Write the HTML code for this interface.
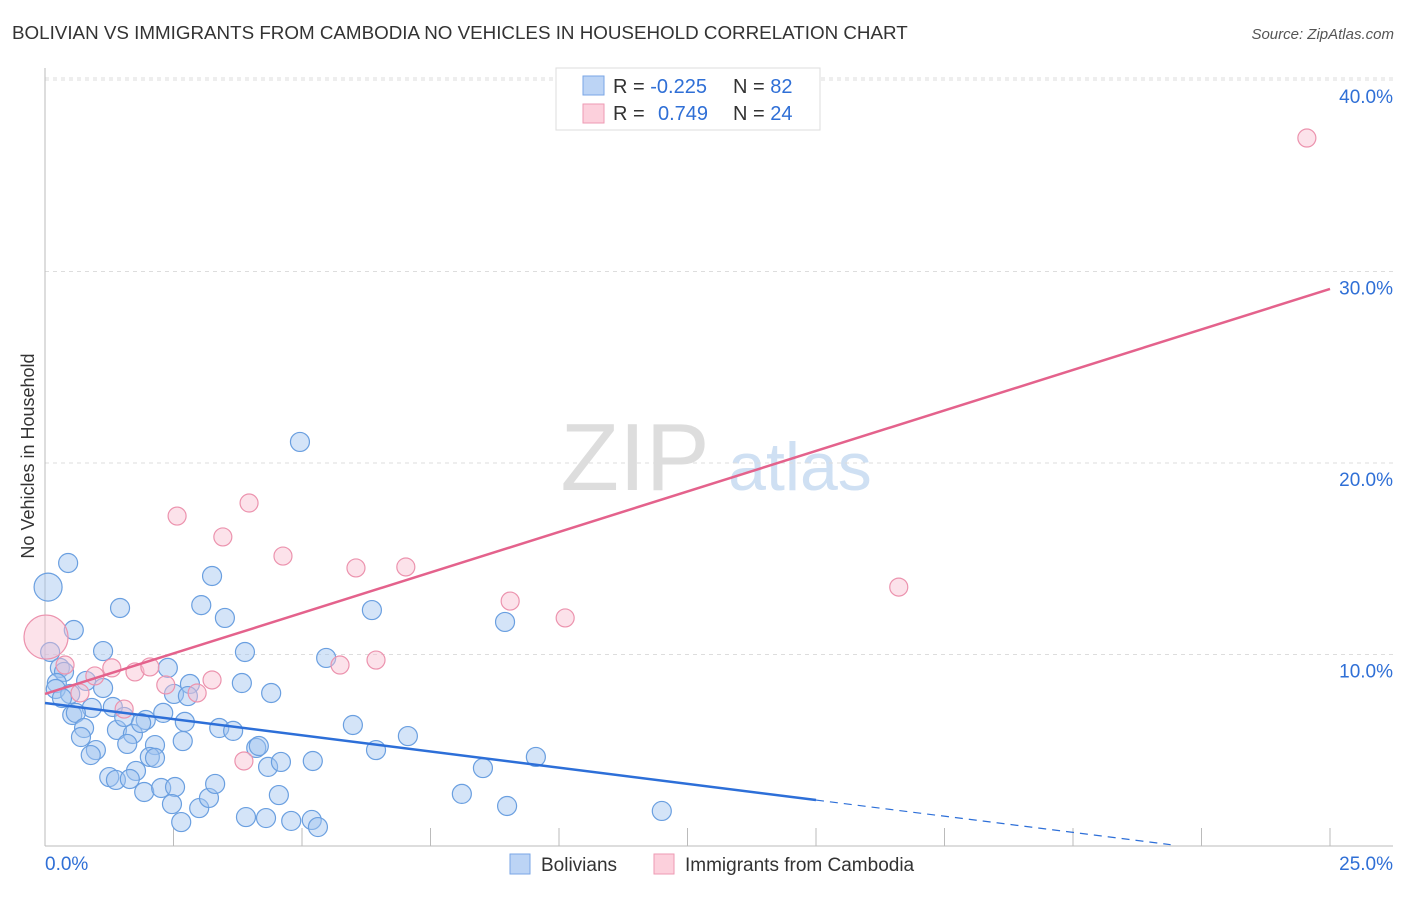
<!DOCTYPE html>
<html><head><meta charset="utf-8"><style>
body{margin:0;background:#fff;font-family:"Liberation Sans",sans-serif;}
svg text{font-family:"Liberation Sans",sans-serif;}
</style></head><body>
<svg id="chart" width="1406" height="892" viewBox="0 0 1406 892" xmlns="http://www.w3.org/2000/svg">
<text x="12" y="39" font-size="18.8" fill="#333">BOLIVIAN VS IMMIGRANTS FROM CAMBODIA NO VEHICLES IN HOUSEHOLD CORRELATION CHART</text>
<text x="1394" y="39" font-size="15" fill="#555" font-style="italic" text-anchor="end">Source: ZipAtlas.com</text>
<g>
<text x="635" y="490" font-size="96" fill="#ddd" font-family="Liberation Serif,serif" text-anchor="middle">ZIP</text>
<text x="800" y="490" font-size="68" fill="#cfe0f3" text-anchor="middle">atlas</text>
</g>
<g id="grid"></g>
<g id="axes"></g>
<g id="marks"></g>
<text transform="translate(34,456) rotate(-90)" font-size="18" fill="#333" text-anchor="middle">No Vehicles in Household</text>
<g>
<rect x="556" y="68" width="264" height="62" fill="#fff" stroke="#ddd"/>
<rect x="583" y="76" width="21" height="19" fill="#bcd4f5" stroke="#7aa6e6"/>
<rect x="583" y="104" width="21" height="19" fill="#fcd0dc" stroke="#ee9ab3"/>
<text x="613" y="93" font-size="20" fill="#333">R = <tspan fill="#2f6fd6">-0.225</tspan><tspan x="733">N = </tspan><tspan fill="#2f6fd6">82</tspan></text>
<text x="613" y="120" font-size="20" fill="#333">R = <tspan x="658" fill="#2f6fd6">0.749</tspan><tspan x="733">N = </tspan><tspan fill="#2f6fd6">24</tspan></text>
</g>
<g>
<rect x="510" y="854" width="20" height="20" fill="#bcd4f5" stroke="#7aa6e6"/>
<text x="541" y="871" font-size="19" fill="#333">Bolivians</text>
<rect x="654" y="854" width="20" height="20" fill="#fcd0dc" stroke="#ee9ab3"/>
<text x="685" y="871" font-size="19" fill="#333">Immigrants from Cambodia</text>
</g>
</svg>
<script>
const yTicks=[10,20,30,40];
const yTickLabels=["10.0%","20.0%","30.0%","40.0%"];
const xTicks=[0,2.5,5,7.5,10,12.5,15,17.5,20,22.5,25];
const blueX=[0.06,0.45,0.56,1.13,0.10,0.29,0.37,0.23,0.21,0.49,0.33,0.80,1.13,0.91,1.32,0.53,0.60,0.76,0.70,0.99,0.89,1.40,1.54,1.71,1.60,1.96,1.87,2.14,2.04,2.14,2.30,2.39,2.51,2.72,2.68,2.82,2.78,1.46,1.77,1.25,1.38,1.65,1.93,2.26,2.53,2.47,2.65,3.00,3.19,3.31,3.04,3.25,3.50,3.39,3.66,3.83,3.89,4.11,4.16,4.34,4.59,4.40,3.91,4.30,4.55,4.79,5.19,5.31,5.21,4.96,5.47,5.99,6.36,6.44,7.06,8.52,8.11,8.95,8.99,9.55,12.00];
const blueY=[13.52,14.78,11.28,10.18,10.13,9.30,9.09,8.51,8.20,7.94,7.73,8.62,8.25,7.21,7.26,6.84,6.95,6.16,5.69,5.01,4.75,6.06,6.74,5.85,5.33,6.58,6.42,5.27,4.65,4.60,6.95,9.30,7.94,6.48,5.48,8.46,7.83,12.43,3.92,3.60,3.45,3.50,2.82,3.03,3.08,2.19,1.25,1.98,2.51,3.24,12.58,14.10,11.91,6.16,6.01,8.51,10.13,5.12,5.22,4.13,4.39,7.99,1.51,1.46,2.66,1.31,1.36,0.99,4.44,21.10,9.82,6.32,12.32,5.01,5.74,4.07,2.72,11.70,2.09,4.65,1.83];
const pinkX=[0.02,0.39,0.68,0.97,1.30,1.54,1.75,2.04,2.35,2.57,2.96,3.25,3.46,3.97,3.87,4.63,5.74,6.05,6.44,7.02,9.05,10.12,16.61,24.55];
const pinkY=[10.91,9.45,7.99,8.88,9.30,7.15,9.09,9.35,8.41,17.23,7.99,8.67,16.14,17.91,4.44,15.14,9.45,14.52,9.71,14.57,12.79,11.91,13.52,36.97];
const blueTrend=[7.47,-0.338];
const pinkTrend=[7.94,0.846];
const NS="http://www.w3.org/2000/svg";
const X=v=>45+v*51.4, Y=v=>846-v*19.15;
function mk(tag,attrs,parent){const e=document.createElementNS(NS,tag);for(const k in attrs)e.setAttribute(k,attrs[k]);document.getElementById(parent).appendChild(e);return e;}
yTicks.forEach((t,i)=>{
 const g=mk('line',{x1:45,x2:1393,y1:Y(t),y2:Y(t),stroke:'#ddd','stroke-dasharray':'4,4'},'grid');
 
 
 const l=mk('text',{x:1393,y:Y(t)+23,'font-size':19,fill:'#2f6fd6','text-anchor':'end'},'grid');
 l.textContent=yTickLabels[i];
 
 
});
const topLine=mk('line',{x1:45,x2:1393,y1:78,y2:78,stroke:'#ddd','stroke-dasharray':'4,4'},'grid');


const ya=mk('line',{x1:45,x2:45,y1:68,y2:846,stroke:'#bbb'},'axes');


const xa=mk('line',{x1:45,x2:1393,y1:846,y2:846,stroke:'#bbb'},'axes');


xTicks.forEach(t=>{const tk=mk('line',{x1:X(t),x2:X(t),y1:828,y2:846,stroke:'#bbb'},'axes');
 
 });
const xl0=mk('text',{x:45,y:870,'font-size':19,fill:'#2f6fd6'},'axes');xl0.textContent='0.0%';


const xl1=mk('text',{x:1393,y:870,'font-size':19,fill:'#2f6fd6','text-anchor':'end'},'axes');xl1.textContent='25.0%';


blueX.forEach((x,i)=>{const c=mk('circle',{cx:X(x),cy:Y(blueY[i]),r:i===0?14:9.5,fill:'rgba(160,196,240,0.45)',stroke:'#6a9fe0','stroke-width':1.2},'marks');
 
 });
pinkX.forEach((x,i)=>{const c=mk('circle',{cx:X(x),cy:Y(pinkY[i]),r:i===0?22:9,fill:'rgba(248,190,208,0.45)',stroke:'#ec93ae','stroke-width':1.2},'marks');
 
 });
const bt=v=>blueTrend[0]+blueTrend[1]*v, pt=v=>pinkTrend[0]+pinkTrend[1]*v;
const b1=mk('line',{x1:X(0),y1:Y(bt(0)),x2:X(15),y2:Y(bt(15)),stroke:'#2d6fd8','stroke-width':2.5},'marks');


const b2=mk('line',{x1:X(15),y1:Y(bt(15)),x2:X(21.9),y2:Y(bt(21.9)),stroke:'#2d6fd8','stroke-width':1.2,'stroke-dasharray':'8,6'},'marks');


const p1=mk('line',{x1:X(0),y1:Y(pt(0)),x2:X(25),y2:Y(pt(25)),stroke:'#e4628c','stroke-width':2.5},'marks');


</script>
</body></html>
